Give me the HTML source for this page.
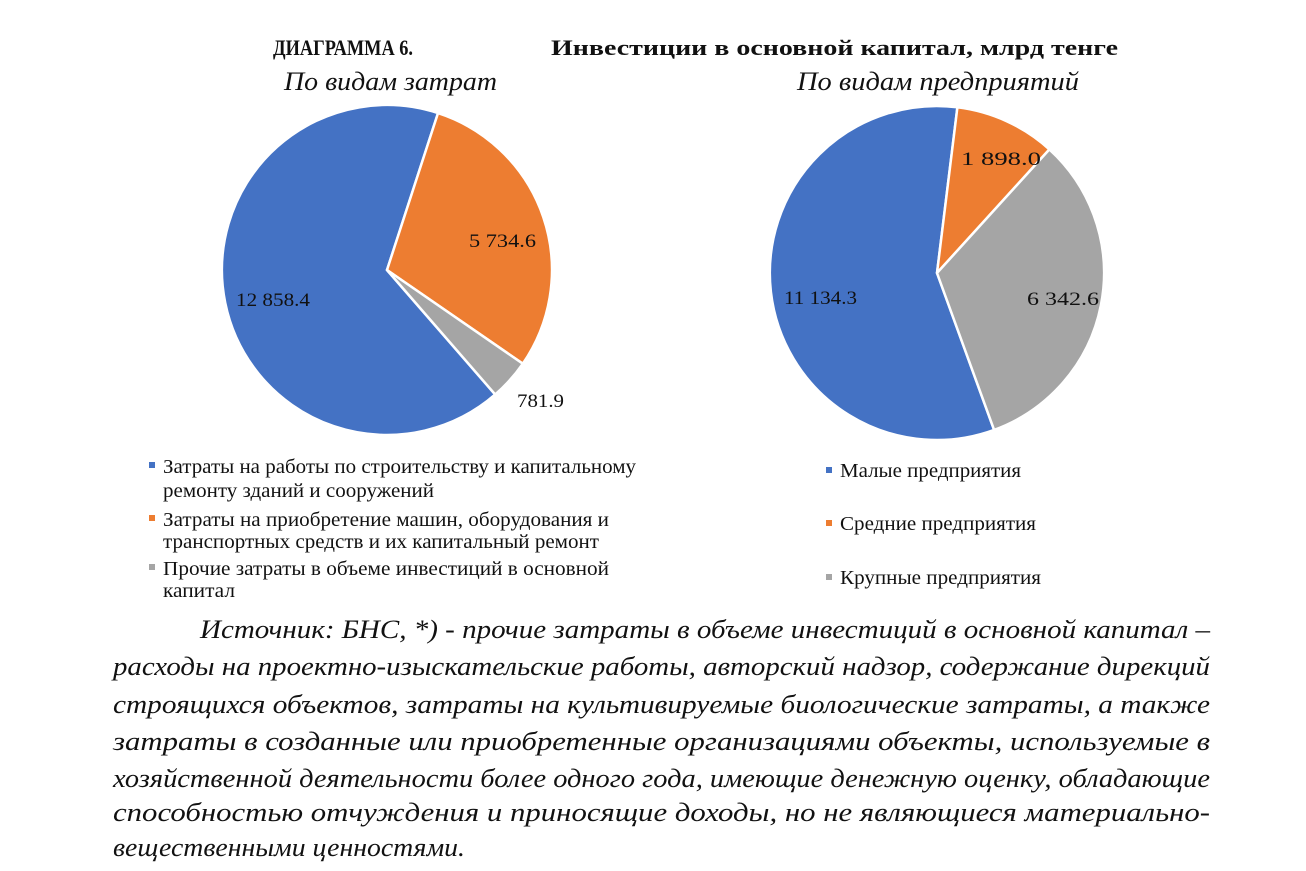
<!DOCTYPE html>
<html><head><meta charset="utf-8"><style>
html,body{margin:0;padding:0;background:#fff;}
svg{display:block;}
text{font-family:"Liberation Serif",serif;fill:#111;}
.t{font-weight:bold;font-size:22px;}
.s{font-style:italic;font-size:26px;}
.l{font-size:19px;}
.g{font-size:20px;}
.b{font-style:italic;font-size:26px;}
</style></head><body>
<svg width="1306" height="871" viewBox="0 0 1306 871">
<text class="t" x="273" y="55" textLength="140" lengthAdjust="spacingAndGlyphs">ДИАГРАММА 6.</text>
<text class="t" x="551" y="55" textLength="567" lengthAdjust="spacingAndGlyphs">Инвестиции в основной капитал, млрд тенге</text>
<text class="s" x="284" y="90" textLength="213" lengthAdjust="spacingAndGlyphs">По видам затрат</text>
<text class="s" x="797" y="90" textLength="282" lengthAdjust="spacingAndGlyphs">По видам предприятий</text>

<g stroke="#fff" stroke-width="2.5" stroke-linejoin="round">
<path d="M387,270 L495.2,394.5 A165,165 0 1 1 438.0,113.1 Z" fill="#4472C4"/>
<path d="M387,270 L438.0,113.1 A165,165 0 0 1 522.8,363.7 Z" fill="#ED7D31"/>
<path d="M387,270 L522.8,363.7 A165,165 0 0 1 495.2,394.5 Z" fill="#A5A5A5"/>
<path d="M937,273 L994.1,429.9 A167,167 0 1 1 957.4,107.3 Z" fill="#4472C4"/>
<path d="M937,273 L957.4,107.3 A167,167 0 0 1 1049.4,149.4 Z" fill="#ED7D31"/>
<path d="M937,273 L1049.4,149.4 A167,167 0 0 1 994.1,429.9 Z" fill="#A5A5A5"/>
</g>
<text class="l" x="236" y="306" textLength="74" lengthAdjust="spacingAndGlyphs">12 858.4</text>
<text class="l" x="469" y="247" textLength="67" lengthAdjust="spacingAndGlyphs">5 734.6</text>
<text class="l" x="517" y="407" textLength="47" lengthAdjust="spacingAndGlyphs">781.9</text>
<text class="l" x="784" y="304" textLength="73" lengthAdjust="spacingAndGlyphs">11 134.3</text>
<text class="l" x="961" y="165" textLength="80" lengthAdjust="spacingAndGlyphs">1 898.0</text>
<text class="l" x="1027" y="305" textLength="72" lengthAdjust="spacingAndGlyphs">6 342.6</text>

<rect x="149" y="462" width="6" height="6" fill="#4472C4"/>
<rect x="149" y="515" width="6" height="6" fill="#ED7D31"/>
<rect x="149" y="564" width="6" height="6" fill="#A5A5A5"/>
<text class="g" x="163" y="473" textLength="473" lengthAdjust="spacingAndGlyphs">Затраты на работы по строительству и капитальному</text>
<text class="g" x="163" y="497" textLength="271" lengthAdjust="spacingAndGlyphs">ремонту зданий и сооружений</text>
<text class="g" x="163" y="526" textLength="446" lengthAdjust="spacingAndGlyphs">Затраты на приобретение машин, оборудования и</text>
<text class="g" x="163" y="548" textLength="436" lengthAdjust="spacingAndGlyphs">транспортных средств и их капитальный ремонт</text>
<text class="g" x="163" y="575" textLength="446" lengthAdjust="spacingAndGlyphs">Прочие затраты в объеме инвестиций в  основной</text>
<text class="g" x="163" y="597" textLength="72" lengthAdjust="spacingAndGlyphs">капитал</text>

<rect x="826" y="467" width="6" height="6" fill="#4472C4"/>
<rect x="826" y="520" width="6" height="6" fill="#ED7D31"/>
<rect x="826" y="574" width="6" height="6" fill="#A5A5A5"/>
<text class="g" x="840" y="477" textLength="181" lengthAdjust="spacingAndGlyphs">Малые предприятия</text>
<text class="g" x="840" y="530" textLength="196" lengthAdjust="spacingAndGlyphs">Средние предприятия</text>
<text class="g" x="840" y="584" textLength="201" lengthAdjust="spacingAndGlyphs">Крупные предприятия</text>

<text class="b" x="200" y="638" textLength="1010" lengthAdjust="spacingAndGlyphs">Источник: БНС, *) - прочие затраты в объеме инвестиций в основной капитал –</text>
<text class="b" x="113" y="675" textLength="1097" lengthAdjust="spacingAndGlyphs">расходы на проектно-изыскательские работы, авторский надзор, содержание дирекций</text>
<text class="b" x="113" y="713" textLength="1097" lengthAdjust="spacingAndGlyphs">строящихся объектов, затраты на культивируемые биологические затраты, а также</text>
<text class="b" x="113" y="750" textLength="1097" lengthAdjust="spacingAndGlyphs">затраты в созданные или приобретенные организациями объекты, используемые в</text>
<text class="b" x="113" y="787" textLength="1097" lengthAdjust="spacingAndGlyphs">хозяйственной деятельности более одного года, имеющие денежную оценку, обладающие</text>
<text class="b" x="113" y="821" textLength="1097" lengthAdjust="spacingAndGlyphs">способностью отчуждения и приносящие доходы, но не являющиеся материально-</text>
<text class="b" x="113" y="856" textLength="352" lengthAdjust="spacingAndGlyphs">вещественными ценностями.</text>
</svg>
</body></html>
